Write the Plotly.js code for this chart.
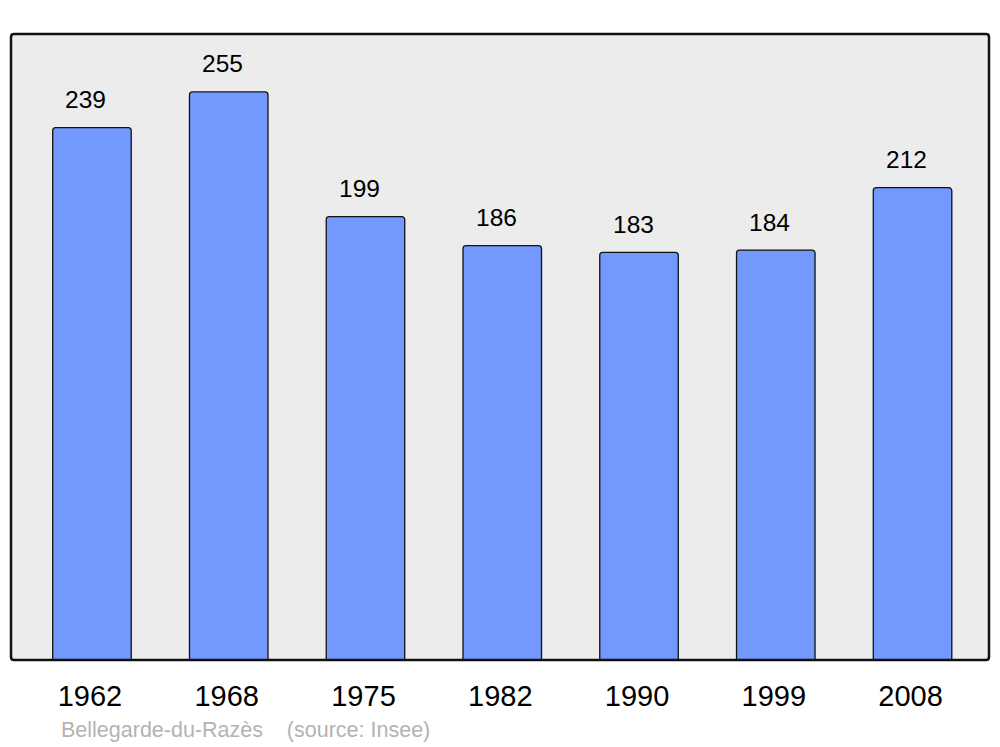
<!DOCTYPE html>
<html>
<head>
<meta charset="utf-8">
<script src="https://cdn.plot.ly/plotly-3.0.1.min.js"></script>
<style>html,body{margin:0;padding:0;background:#fff;}#chart{width:1000px;height:747px;}</style>
</head>
<body>
<div id="chart"></div>
<script>
var years = ["1962", "1968", "1975", "1982", "1990", "1999", "2008"];
var population = [239, 255, 199, 186, 183, 184, 212];
var footnote = "Bellegarde-du-Razès&nbsp;&nbsp;&nbsp;&nbsp;(source: Insee)";

var idx = years.map(function(_, i){ return i; });

var trace = {
  type: 'bar',
  x: idx,
  y: population,
  width: 0.574,
  marker: {color: '#7399ff', line: {color: '#111111', width: 1.3}, cornerradius: 3},
  hoverinfo: 'none'
};

var annotations = population.map(function(v, i){
  return {x: i, y: v, xref: 'x', yref: 'y', text: String(v), showarrow: false,
    yanchor: 'middle', xanchor: 'center', yshift: 28, xshift: -6,
    font: {family: 'Liberation Sans, Arial, sans-serif', size: 24.5, color: '#000'}};
});
annotations.push({xref: 'paper', yref: 'paper', x: 0.049, y: -0.1118, xanchor: 'left', yanchor: 'middle',
  text: footnote, showarrow: false,
  font: {family: 'Liberation Sans, Arial, sans-serif', size: 21.5, color: '#b3b3b3'}});

// rounded frame in paper fractions (radius ~3px)
var rx = 3 / 978, ry = 3 / 626;
var framePath = 'M ' + rx + ',0 L ' + (1 - rx) + ',0 Q 1,0 1,' + ry +
  ' L 1,' + (1 - ry) + ' Q 1,1 ' + (1 - rx) + ',1 L ' + rx + ',1 Q 0,1 0,' + (1 - ry) +
  ' L 0,' + ry + ' Q 0,0 ' + rx + ',0 Z';

var layout = {
  width: 1000, height: 747,
  margin: {l: 11, r: 11, t: 34, b: 87},
  paper_bgcolor: '#ffffff',
  plot_bgcolor: '#ececec',
  showlegend: false,
  xaxis: {range: [-0.592, 6.559], tickvals: idx, ticktext: years, showgrid: false, zeroline: false,
    showline: false, ticks: '', ticklabelshift: -2, ticklabelstandoff: 16,
    tickfont: {family: 'Liberation Sans, Arial, sans-serif', size: 29, color: '#000'}},
  yaxis: {range: [0, 281], showgrid: false, zeroline: false, showticklabels: false, ticks: '', showline: false},
  annotations: annotations,
  shapes: [{type: 'path', xref: 'paper', yref: 'paper', path: framePath,
    line: {color: '#111111', width: 2.5}, fillcolor: 'rgba(0,0,0,0)', layer: 'above'}]
};

Plotly.newPlot('chart', [trace], layout, {displayModeBar: false, staticPlot: true});
</script>
</body>
</html>
